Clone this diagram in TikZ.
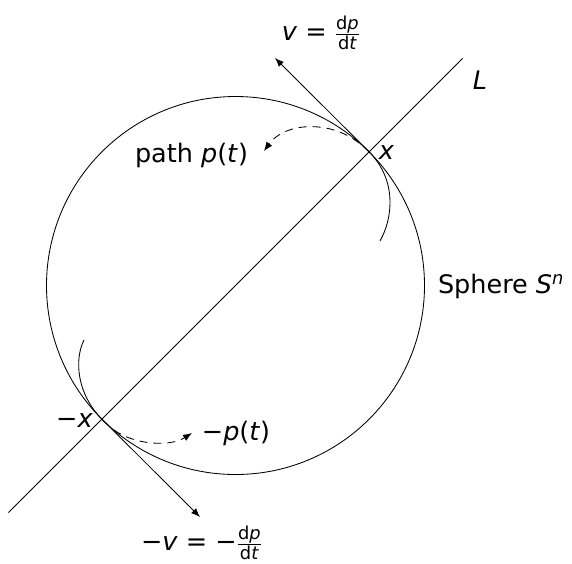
\documentclass[tikz,border=0pt]{standalone}
\usepackage{fontspec}
\usepackage{amsmath}
\setmainfont{DejaVu Sans}
\usetikzlibrary{arrows.meta}
\newcommand{\mi}[1]{\textit{#1}}
\newcommand{\dfr}[2]{$\frac{\text{d\mi{#1}}}{\text{d\mi{#2}}}$}
\begin{document}
\begin{tikzpicture}[x=1pt,y=-1pt,
  lbl/.style={inner sep=0pt, font=\fontsize{25.5}{30}\selectfont},
  curve/.style={line width=0.85pt},
  vec/.style={line width=0.85pt, -{Latex[length=9pt,width=7pt]}},
  flow/.style={line width=0.85pt, dash pattern=on 8pt off 6pt, -{Latex[length=9pt,width=7pt]}}]
\useasboundingbox (0,0) rectangle (572,563);
% geometry
\coordinate (C) at (235.5,285.5);
\coordinate (X) at (369.1,151.9);
\coordinate (NX) at (101.9,419.1);
\coordinate (La) at (462.5,58.5);
\coordinate (Lb) at (8.5,512.5);
\coordinate (V) at (275,58);
\coordinate (NV) at (200,517);
% sphere
\draw[curve] (C) circle[radius=189pt];
% line L
\draw[curve] (Lb) -- (La);
% tangent vectors
\draw[vec] (X) -- (V);
\draw[vec] (NX) -- (NV);
% paths
\coordinate (Xa) at (363,146);
\coordinate (Xe) at (380,241);
\draw[curve] (Xa) -- (X) .. controls (397,180) and (393,218) .. (Xe);
\coordinate (NXs) at (84,340);
\coordinate (NXa) at (108,425);
\draw[curve] (NXs) .. controls (74,360) and (77,394) .. (NX) -- (NXa);
% dashed flow arrows
\coordinate (Xd) at (359,143);
\coordinate (Xt) at (264,151);
\draw[flow] (Xd) .. controls (330,120) and (285,122) .. (Xt);
\coordinate (NXd) at (114,430);
\coordinate (NXt) at (192,433);
\draw[flow] (NXd) .. controls (135,445) and (170,447) .. (NXt);
% labels
\node[lbl] (lv) at (321,33) {\mi{v} = \dfr{p}{t}};
\node[lbl] (lL) at (480,80) {\mi{L}};
\node[lbl] (lx) at (386.5,152.5) {\mi{x}};
\node[lbl] (lpath) at (191.5,155) {path \mi{p}(\mi{t})};
\node[lbl] (lS) at (501,286) {Sphere \mi{S}\textsuperscript{\mi{n}}};
\node[lbl] (lnx) at (74.5,421) {−\mi{x}};
\node[lbl] (lnp) at (236,433) {−\mi{p}(\mi{t})};
\node[lbl] (lnv) at (201.5,543) {−\mi{v} = −\dfr{p}{t}};
\end{tikzpicture}
\end{document}
